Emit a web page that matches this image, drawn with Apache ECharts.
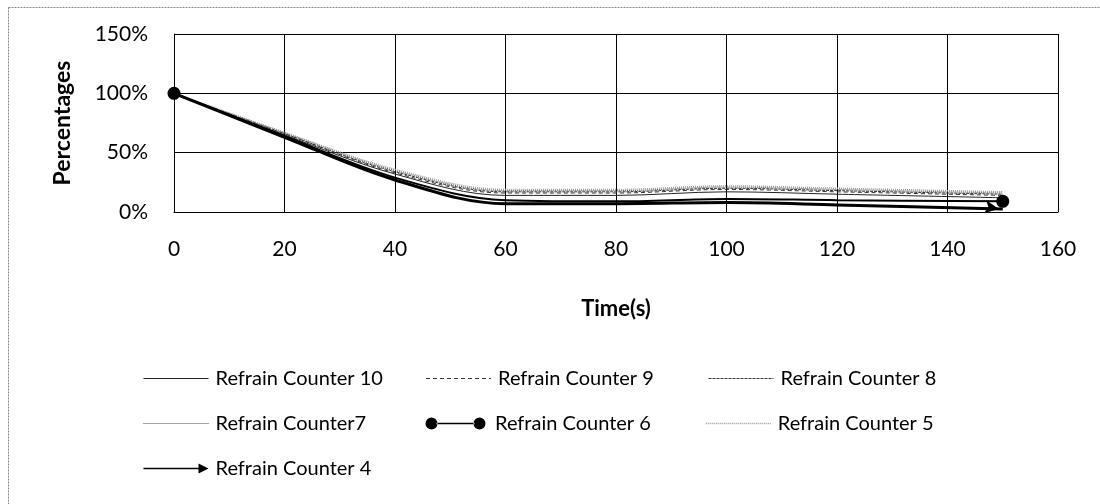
<!DOCTYPE html>
<html><head><meta charset="utf-8">
<script src="https://cdn.jsdelivr.net/npm/echarts@6/dist/echarts.min.js"></script>
<style>html,body{margin:0;padding:0;background:#fff}#c{width:1100px;height:504px}</style>
</head><body><div id="c"></div>
<script>
var times = [0, 20, 40, 60, 80, 100, 120, 150];
var counter10 = [100, 65, 32, 14, 14, 17, 15, 12];
var counter9  = [100, 66, 33, 16, 16, 19, 17, 14];
var counter8  = [100, 66, 34, 17, 17, 20, 18, 15];
var counter7  = [100, 67, 35, 18, 18, 21, 19, 16];
var counter6  = [100, 64, 29, 10, 9, 11, 10, 9];
var counter5  = [100, 67, 36, 19, 19, 22, 20, 17];
var counter4  = [100, 63, 27, 7, 7, 8, 6, 2.5];
var xTicks = [0, 20, 40, 60, 80, 100, 120, 140, 160];
var yTicks = [0, 50, 100, 150];
var names = ['Refrain Counter 10','Refrain Counter 9','Refrain Counter 8','Refrain Counter7','Refrain Counter 6','Refrain Counter 5','Refrain Counter 4'];

function pairs(v){ return times.map(function(t,i){ return [t, v[i]]; }); }
var last = times.length - 1;
var FONT = 'Lato';
var hideSym = {opacity:0, borderWidth:0};

var chart = echarts.init(document.getElementById('c'));
chart.setOption({
  animation: false,
  textStyle: {fontFamily: FONT},
  graphic: [{type:'rect', shape:{x:8.5,y:7.5,width:1200,height:700}, style:{fill:null, stroke:'#888', lineWidth:1, lineDash:[2,1]}, silent:true}],
  grid: {left:174, right:42, top:34, bottom:292},
  xAxis: {
    type:'value', min:xTicks[0], max:xTicks[xTicks.length-1], interval:20,
    name:'Time(s)', nameLocation:'middle', nameGap:86,
    nameTextStyle:{fontFamily:FONT, fontSize:22, fontWeight:'bold', color:'#000'},
    axisLine:{show:true, lineStyle:{color:'#000', width:1}},
    axisTick:{show:false},
    axisLabel:{color:'#000', fontSize:21, margin:27, fontFamily:FONT},
    splitLine:{show:true, lineStyle:{color:'#000', width:1}}
  },
  yAxis: {
    type:'value', min:yTicks[0], max:yTicks[yTicks.length-1], interval:50,
    name:'Percentages', nameLocation:'middle', nameGap:100, nameRotate:90,
    nameTextStyle:{fontFamily:FONT, fontSize:23, fontWeight:'bold', color:'#000'},
    axisLine:{show:true, lineStyle:{color:'#000', width:1}},
    axisTick:{show:false},
    axisLabel:{color:'#000', fontSize:21, margin:26, formatter:'{value}%', fontFamily:FONT},
    splitLine:{show:true, lineStyle:{color:'#000', width:1}}
  },
  legend: {
    left:143, top:356, width:870, orient:'horizontal', padding:0,
    itemWidth:65, itemHeight:12, itemGap:0,
    textStyle:{fontFamily:FONT, fontSize:20, color:'#000', width:210, lineHeight:45, padding:[0,0,0,2]},
    data:[
      {name:names[0], itemStyle:hideSym, lineStyle:{width:1}},
      {name:names[1], itemStyle:hideSym, lineStyle:{width:1}},
      {name:names[2], itemStyle:hideSym, lineStyle:{width:1}},
      {name:names[3], itemStyle:hideSym, lineStyle:{width:1}},
      {name:names[4], icon:'path://M0,6.5a6.5,6.5 0 1,0 13,0a6.5,6.5 0 1,0 -13,0ZM12,5.8L53,5.8L53,7.2L12,7.2ZM52,6.5a6.5,6.5 0 1,0 13,0a6.5,6.5 0 1,0 -13,0Z'},
      {name:names[5], itemStyle:hideSym, lineStyle:{width:1.5}},
      {name:names[6], icon:'path://M0,5.2L56,5.2L56,6.8L0,6.8ZM55,1L65,6L55,11Z'}
    ]
  },
  series: [
    {name:names[0], type:'line', smooth:0.35, symbol:'none', data:pairs(counter10), color:'#222', lineStyle:{color:'#222', width:1}},
    {name:names[1], type:'line', smooth:0.35, symbol:'none', data:pairs(counter9), color:'#333', lineStyle:{color:'#333', width:1, type:[4,3]}},
    {name:names[2], type:'line', smooth:0.35, symbol:'none', data:pairs(counter8), color:'#333', lineStyle:{color:'#333', width:1, type:[3,1]}},
    {name:names[3], type:'line', smooth:0.35, symbol:'none', data:pairs(counter7), color:'#444', lineStyle:{color:'#444', width:1, type:[1,1]}},
    {name:names[5], type:'line', smooth:0.35, symbol:'none', data:pairs(counter5), color:'#999', lineStyle:{color:'#999', width:1.5, type:[1,1]}},
    {name:names[4], type:'line', smooth:0.35, data:pairs(counter6), color:'#000',
      showAllSymbol:true,
      symbol:function(v,p){ return (p.dataIndex===0||p.dataIndex===last)?'circle':'none'; },
      symbolSize:13, itemStyle:{color:'#000'}, lineStyle:{color:'#000', width:2}},
    {name:names[6], type:'line', smooth:0.35, data:pairs(counter4), color:'#000',
      showAllSymbol:true,
      symbol:function(v,p){ return p.dataIndex===last?'arrow':'none'; },
      symbolSize:[10,14], symbolRotate:-100, symbolOffset:[-4,0],
      itemStyle:{color:'#000'}, lineStyle:{color:'#000', width:3}}
  ]
});
</script></body></html>
